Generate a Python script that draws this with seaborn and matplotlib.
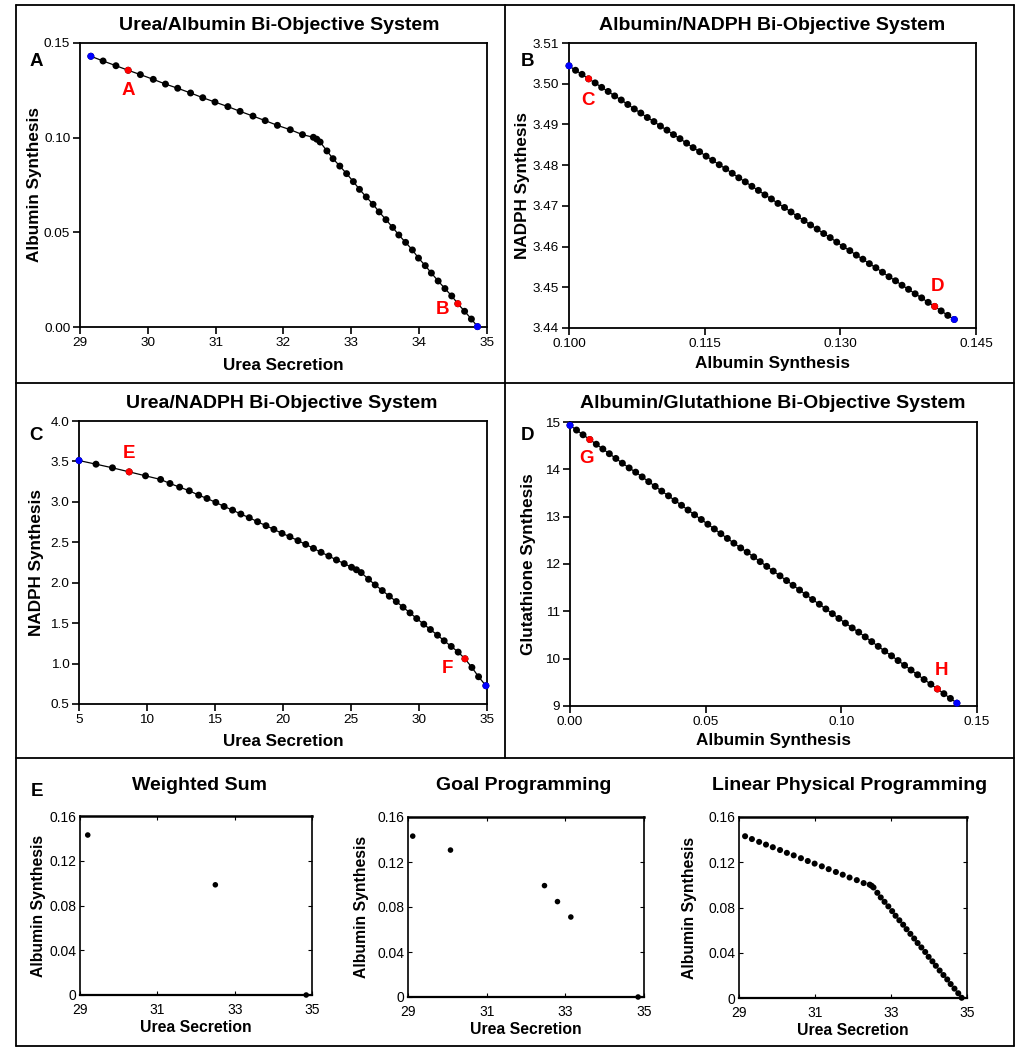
import matplotlib
matplotlib.use("Agg")
import matplotlib.pyplot as plt
from matplotlib.lines import Line2D
import seaborn as sns

# panel A / E(LPP): urea secretion vs albumin synthesis
urea_a = [29.16, 29.34, 29.53, 29.71, 29.89, 30.08, 30.26, 30.44, 30.63, 30.81,
          30.99, 31.18, 31.36, 31.55, 31.73, 31.91, 32.10, 32.28, 32.44, 32.49,
          32.54, 32.64, 32.73, 32.83, 32.93, 33.03, 33.12, 33.22, 33.32, 33.41,
          33.51, 33.61, 33.70, 33.80, 33.90, 33.99, 34.09, 34.18, 34.28, 34.38,
          34.48, 34.57, 34.67, 34.77, 34.86]
albumin_a = [0.1430, 0.1405, 0.1380, 0.1356, 0.1333, 0.1308, 0.1283, 0.1261, 0.1236, 0.1211,
             0.1188, 0.1164, 0.1139, 0.1114, 0.1090, 0.1065, 0.1042, 0.1016, 0.1002, 0.0992,
             0.0977, 0.0930, 0.0889, 0.0850, 0.0810, 0.0768, 0.0727, 0.0687, 0.0648, 0.0608,
             0.0567, 0.0526, 0.0486, 0.0447, 0.0407, 0.0364, 0.0324, 0.0285, 0.0243, 0.0203,
             0.0164, 0.0123, 0.0083, 0.0042, 0.0002]

# panel B: albumin vs NADPH
albumin_b = [0.10000, 0.10072, 0.10144, 0.10217, 0.10289, 0.10361, 0.10433, 0.10505, 0.10578, 0.10650,
             0.10722, 0.10794, 0.10866, 0.10939, 0.11011, 0.11083, 0.11155, 0.11227, 0.11300, 0.11372,
             0.11444, 0.11516, 0.11588, 0.11661, 0.11733, 0.11805, 0.11877, 0.11949, 0.12022, 0.12094,
             0.12166, 0.12238, 0.12310, 0.12383, 0.12455, 0.12527, 0.12599, 0.12671, 0.12744, 0.12816,
             0.12888, 0.12960, 0.13032, 0.13105, 0.13177, 0.13249, 0.13321, 0.13393, 0.13466, 0.13538,
             0.13610, 0.13682, 0.13754, 0.13827, 0.13899, 0.13971, 0.14043, 0.14115, 0.14188, 0.14260]
nadph_b = [3.5044, 3.5033, 3.5023, 3.5012, 3.5002, 3.4991, 3.4981, 3.4970, 3.4960, 3.4949,
           3.4938, 3.4928, 3.4917, 3.4907, 3.4896, 3.4886, 3.4875, 3.4865, 3.4854, 3.4843,
           3.4833, 3.4822, 3.4812, 3.4801, 3.4791, 3.4780, 3.4769, 3.4759, 3.4748, 3.4738,
           3.4727, 3.4717, 3.4706, 3.4696, 3.4685, 3.4674, 3.4664, 3.4653, 3.4643, 3.4632,
           3.4622, 3.4611, 3.4600, 3.4590, 3.4579, 3.4569, 3.4558, 3.4548, 3.4537, 3.4526,
           3.4516, 3.4505, 3.4495, 3.4484, 3.4474, 3.4463, 3.4453, 3.4442, 3.4431, 3.4421]

# panel C: urea vs NADPH
urea_c = [5.00, 6.25, 7.46, 8.69, 9.89, 11.00, 11.69, 12.40, 13.11, 13.80,
          14.41, 15.06, 15.67, 16.29, 16.90, 17.52, 18.13, 18.75, 19.33, 19.93,
          20.51, 21.10, 21.67, 22.24, 22.80, 23.37, 23.93, 24.50, 25.04, 25.40,
          25.75, 26.29, 26.78, 27.30, 27.82, 28.33, 28.83, 29.34, 29.83, 30.35,
          30.84, 31.36, 31.85, 32.37, 32.88, 33.38, 33.89, 34.38, 34.92]
nadph_c = [3.511, 3.466, 3.421, 3.371, 3.322, 3.277, 3.227, 3.182, 3.137, 3.083,
           3.042, 2.993, 2.943, 2.898, 2.849, 2.804, 2.754, 2.705, 2.660, 2.610,
           2.569, 2.520, 2.474, 2.425, 2.376, 2.330, 2.281, 2.236, 2.191, 2.160,
           2.125, 2.043, 1.973, 1.903, 1.833, 1.767, 1.697, 1.627, 1.557, 1.487,
           1.421, 1.351, 1.282, 1.212, 1.142, 1.059, 0.952, 0.837, 0.726]

# panel D: albumin vs glutathione
albumin_d = [0.0000, 0.0024, 0.0048, 0.0073, 0.0097, 0.0121, 0.0145, 0.0169, 0.0193, 0.0218,
             0.0242, 0.0266, 0.0290, 0.0314, 0.0338, 0.0363, 0.0387, 0.0411, 0.0435, 0.0459,
             0.0484, 0.0508, 0.0532, 0.0556, 0.0580, 0.0604, 0.0629, 0.0653, 0.0677, 0.0701,
             0.0725, 0.0749, 0.0774, 0.0798, 0.0822, 0.0846, 0.0870, 0.0894, 0.0919, 0.0943,
             0.0967, 0.0991, 0.1015, 0.1040, 0.1064, 0.1088, 0.1112, 0.1136, 0.1160, 0.1185,
             0.1209, 0.1233, 0.1257, 0.1281, 0.1305, 0.1330, 0.1354, 0.1378, 0.1402, 0.1426]
glut_d = [14.93, 14.83, 14.73, 14.63, 14.53, 14.43, 14.33, 14.23, 14.13, 14.03,
          13.94, 13.84, 13.74, 13.64, 13.54, 13.44, 13.34, 13.24, 13.14, 13.04,
          12.94, 12.84, 12.74, 12.64, 12.54, 12.44, 12.34, 12.25, 12.15, 12.05,
          11.95, 11.85, 11.75, 11.65, 11.55, 11.45, 11.35, 11.25, 11.15, 11.05,
          10.95, 10.85, 10.75, 10.65, 10.56, 10.46, 10.36, 10.26, 10.16, 10.06,
          9.96, 9.86, 9.76, 9.66, 9.56, 9.46, 9.36, 9.26, 9.16, 9.06]

# panel E: method comparison
ws_urea = [29.20, 32.50, 34.85]
ws_albumin = [0.143, 0.0985, 0.0]
gp_urea = [29.12, 30.08, 32.47, 32.80, 33.14, 34.85]
gp_albumin = [0.143, 0.1306, 0.0990, 0.0848, 0.0711, 0.0]

sns.set_style("white")
plt.rcParams['font.family'] = ['Liberation Sans', 'DejaVu Sans']
plt.rcParams.update({'text.color': 'black', 'axes.labelcolor': 'black',
                     'xtick.color': 'black', 'ytick.color': 'black'})

W, H = 1023, 1050
fig = plt.figure(figsize=(W / 100, H / 100), dpi=100)


def add_box(l, t, r, b):
    return fig.add_axes([l / W, 1 - b / H, (r - l) / W, (b - t) / H])


def fig_text(x, y, s, **kw):
    fig.text(x / W, 1 - y / H, s, ha='center', va='center', **kw)


def style_top(ax, xlab, ylab, xpos, ypos):
    for sp in ax.spines.values():
        sp.set_linewidth(1.3)
        sp.set_color('black')
    ax.tick_params(direction='out', length=5, width=1.2, labelsize=9.7, pad=2,
                   bottom=True, left=True, top=False, right=False)
    ax.set_xlabel(xlab, fontsize=12.3, fontweight='bold')
    ax.set_ylabel(ylab, fontsize=12.3, fontweight='bold')
    ax.xaxis.label.set_va('center')
    ax.yaxis.label.set_va('center')
    ax.xaxis.set_label_coords(0.5, xpos)
    ax.yaxis.set_label_coords(ypos, 0.5)


def pareto(ax, x, y, reds):
    sns.lineplot(x=x, y=y, sort=False, estimator=None, color='black', lw=0.9, ax=ax)
    sns.scatterplot(x=x, y=y, color='black', s=25, edgecolor='none', ax=ax, clip_on=False, zorder=3)
    sns.scatterplot(x=[x[i] for i in reds], y=[y[i] for i in reds], color='#ff0000', s=25,
                    edgecolor='none', ax=ax, clip_on=False, zorder=4)
    sns.scatterplot(x=[x[0], x[-1]], y=[y[0], y[-1]], color='#0000ff', s=25,
                    edgecolor='none', ax=ax, clip_on=False, zorder=4)


red_kw = dict(color='#ff0000', fontsize=13.5, fontweight='bold', ha='center', va='center')

# A
ax = add_box(80, 43, 487, 327)
pareto(ax, urea_a, albumin_a, [3, len(urea_a) - 4])
ax.set_xlim(29, 35)
ax.set_ylim(0, 0.15)
ax.set_xticks([29, 30, 31, 32, 33, 34, 35])
ax.set_yticks([0, 0.05, 0.10, 0.15])
ax.set_yticklabels(['0.00', '0.05', '0.10', '0.15'])
style_top(ax, 'Urea Secretion', 'Albumin Synthesis', -0.134, -0.111)
ax.text(29.71, 0.125, 'A', **red_kw)
ax.text(34.35, 0.0092, 'B', **red_kw)

# B
ax = add_box(569, 43, 976, 328)
pareto(ax, albumin_b, nadph_b, [3, 56])
ax.set_xlim(0.1, 0.145)
ax.set_ylim(3.44, 3.51)
ax.set_xticks([0.100, 0.115, 0.130, 0.145])
ax.set_xticklabels(['0.100', '0.115', '0.130', '0.145'])
ax.set_yticks([3.44, 3.45, 3.46, 3.47, 3.48, 3.49, 3.50, 3.51])
ax.set_yticklabels(['3.44', '3.45', '3.46', '3.47', '3.48', '3.49', '3.50', '3.51'])
style_top(ax, 'Albumin Synthesis', 'NADPH Synthesis', -0.123, -0.115)
ax.text(0.10206, 3.4959, 'C', **red_kw)
ax.text(0.14069, 3.4502, 'D', **red_kw)

# C
ax = add_box(79, 421, 487, 704)
pareto(ax, urea_c, nadph_c, [3, 45])
ax.set_xlim(5, 35)
ax.set_ylim(0.5, 4.0)
ax.set_xticks([5, 10, 15, 20, 25, 30, 35])
ax.set_yticks([0.5, 1.0, 1.5, 2.0, 2.5, 3.0, 3.5, 4.0])
ax.set_yticklabels(['0.5', '1.0', '1.5', '2.0', '2.5', '3.0', '3.5', '4.0'])
style_top(ax, 'Urea Secretion', 'NADPH Synthesis', -0.131, -0.103)
ax.text(8.69, 3.597, 'E', **red_kw)
ax.text(32.10, 0.944, 'F', **red_kw)

# D
ax = add_box(570, 422, 977, 706)
pareto(ax, albumin_d, glut_d, [3, 56])
ax.set_xlim(0, 0.15)
ax.set_ylim(9, 15)
ax.set_xticks([0, 0.05, 0.10, 0.15])
ax.set_xticklabels(['0.00', '0.05', '0.10', '0.15'])
ax.set_yticks([9, 10, 11, 12, 13, 14, 15])
style_top(ax, 'Albumin Synthesis', 'Glutathione Synthesis', -0.120, -0.103)
ax.text(0.006, 14.225, 'G', **red_kw)
ax.text(0.1368, 9.754, 'H', **red_kw)

# titles and panel letters
title_kw = dict(fontsize=14, fontweight='bold')
fig_text(279, 25, 'Urea/Albumin Bi-Objective System', **title_kw)
fig_text(772, 25, 'Albumin/NADPH Bi-Objective System', **title_kw)
fig_text(282, 404, 'Urea/NADPH Bi-Objective System', **title_kw)
fig_text(773, 404, 'Albumin/Glutathione Bi-Objective System', **title_kw)
for lx, ly, lt in [(36, 62, 'A'), (527, 62, 'B'), (36, 435, 'C'), (527, 435, 'D'), (37, 791, 'E')]:
    fig_text(lx, ly, lt, fontsize=13.5, fontweight='bold')


def style_bottom(ax, xpos, ypos):
    for sp in ax.spines.values():
        sp.set_linewidth(1.2)
        sp.set_color('black')
    ax.spines['top'].set_linewidth(1.8)
    ax.spines['bottom'].set_linewidth(1.6)
    ax.tick_params(direction='in', length=3, width=0.8, labelsize=10,
                   bottom=True, left=True, top=True, right=True)
    ax.tick_params(axis='x', pad=5.5)
    ax.tick_params(axis='y', pad=2.5)
    ax.set_xlim(29, 35)
    ax.set_ylim(0, 0.16)
    ax.set_xticks([29, 31, 33, 35])
    ax.set_yticks([0, 0.04, 0.08, 0.12, 0.16])
    ax.set_yticklabels(['0', '0.04', '0.08', '0.12', '0.16'])
    ax.set_xlabel('Urea Secretion', fontsize=11.3, fontweight='bold')
    ax.set_ylabel('Albumin Synthesis', fontsize=11.3, fontweight='bold')
    ax.xaxis.label.set_va('center')
    ax.yaxis.label.set_va('center')
    ax.xaxis.set_label_coords(0.5, xpos)
    ax.yaxis.set_label_coords(ypos, 0.5)


ax = add_box(80, 816, 312, 995)
sns.scatterplot(x=ws_urea, y=ws_albumin, color='black', s=16, edgecolor='none', ax=ax, clip_on=False)
style_bottom(ax, -0.184, -0.177)
fig_text(200, 786, 'Weighted Sum', **title_kw)

ax = add_box(408, 817, 644, 997)
sns.scatterplot(x=gp_urea, y=gp_albumin, color='black', s=16, edgecolor='none', ax=ax, clip_on=False)
style_bottom(ax, -0.178, -0.195)
fig_text(524, 786, 'Goal Programming', **title_kw)

ax = add_box(739, 817, 967, 998)
sns.scatterplot(x=urea_a, y=albumin_a, color='black', s=19, edgecolor='none', ax=ax, clip_on=False)
style_bottom(ax, -0.177, -0.215)
fig_text(850, 786, 'Linear Physical Programming', **title_kw)


# panel frames
def fig_line(x0, y0, x1, y1):
    fig.add_artist(Line2D([x0 / W, x1 / W], [1 - y0 / H, 1 - y1 / H],
                          transform=fig.transFigure, color='black', lw=1.3))


fig_line(16, 5, 1014, 5)
fig_line(16, 1046, 1014, 1046)
fig_line(16, 5, 16, 1046)
fig_line(1014, 5, 1014, 1046)
fig_line(505, 5, 505, 758)
fig_line(16, 383, 1014, 383)
fig_line(16, 758, 1014, 758)

fig.savefig('out.png', dpi=100)
